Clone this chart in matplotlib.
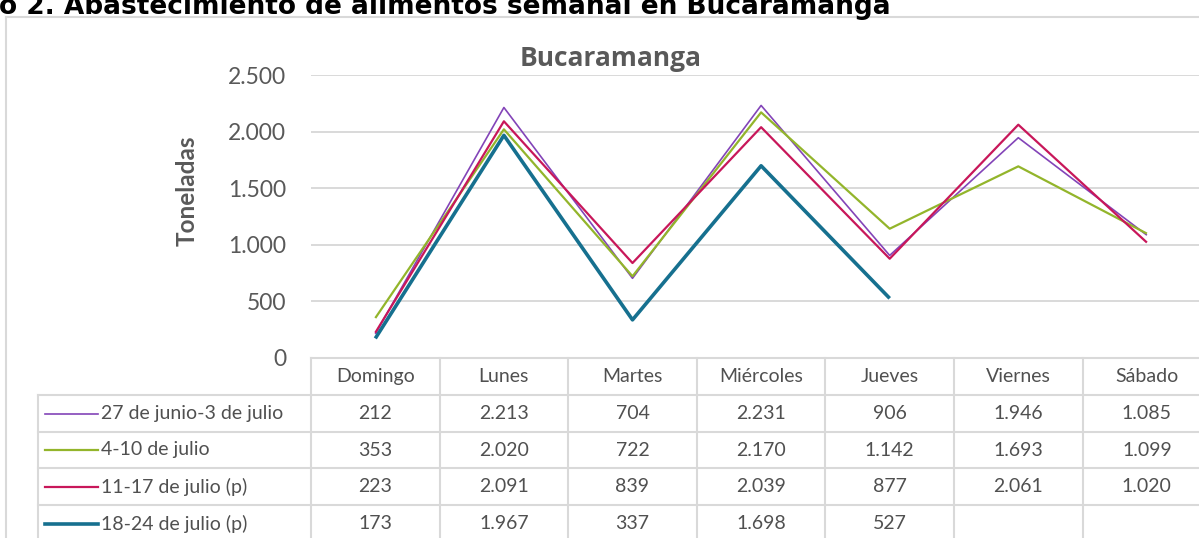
import matplotlib
matplotlib.use("Agg")
import matplotlib.pyplot as plt
import numpy as np

# ---- data ----
days = ["Domingo", "Lunes", "Martes", "Miércoles", "Jueves", "Viernes", "Sábado"]
series_names = ["27 de junio-3 de julio", "4-10 de julio", "11-17 de julio (p)", "18-24 de julio (p)"]
s_27jun = [212, 2213, 704, 2231, 906, 1946, 1085]
s_4jul = [353, 2020, 722, 2170, 1142, 1693, 1099]
s_11jul = [223, 2091, 839, 2039, 877, 2061, 1020]
s_18jul = [173, 1967, 337, 1698, 527, None, None]
yticks = [0, 500, 1000, 1500, 2000, 2500]

series = [s_27jun, s_4jul, s_11jul, s_18jul]
colors = ["#8344B8", "#93B52B", "#C8175A", "#16708F"]
widths = [1.2, 1.6, 1.6, 2.6]

W, H = 1199, 538
fig = plt.figure(figsize=(W / 100, H / 100), dpi=100)
fig.patch.set_facecolor("white")

FONT = "Lato"
GRID = "#D9D9D9"
TXT = "#595959"

def fmt(v):
    return f"{v:,}".replace(",", ".")

# plot axes (pixel geometry)
x0, x1 = 311, 311 + 7 * 128.6
ytop, ybot = 75, 358
ax = fig.add_axes([x0 / W, (H - ybot) / H, (x1 - x0) / W, (ybot - ytop) / H])
ax.set_xlim(-0.5, 6.5)
ax.set_ylim(0, 2500)
ax.set_facecolor("none")
for sp in ax.spines.values():
    sp.set_visible(False)
ax.set_yticks(yticks)
ax.set_yticklabels([fmt(v) for v in yticks], fontsize=16.5, color=TXT, fontfamily=FONT)
ax.tick_params(axis="y", length=0, pad=18)
ax.set_xticks([])
for v in yticks[1:]:
    ax.axhline(v, color=GRID, lw=1.4, zorder=0)

xs = np.arange(len(days))
for s, c, lw in zip(series, colors, widths):
    y = np.array([np.nan if v is None else v for v in s], dtype=float)
    ax.plot(xs, y, color=c, lw=lw, solid_capstyle="butt", zorder=3)

ax.set_ylabel("Toneladas", fontsize=17.5, fontweight="bold", color=TXT, fontfamily=FONT)
ax.yaxis.set_label_coords(-(311 - 199) / (x1 - x0), (ybot - 191) / (ybot - ytop))

# overlay for table, frame, titles
ov = fig.add_axes([0, 0, 1, 1])
ov.set_xlim(0, W)
ov.set_ylim(H, 0)
ov.axis("off")
ov.set_zorder(-1)

# outer frame
ov.plot([6, 6], [17, H + 5], color=GRID, lw=1.5)
ov.plot([6, W + 5], [17, 17], color=GRID, lw=1.5)

# figure title (partially cut at the top edge, as in the reference)
ov.text(-1, 14, "o 2. Abastecimiento de alimentos semanal en Bucaramanga", fontsize=19,
        fontweight="bold", color="black", fontfamily="DejaVu Sans", ha="left", va="baseline")
# chart title
ov.text(611, 59, "Bucaramanga", fontsize=19, fontweight="bold", color=TXT, fontfamily="Open Sans",
        ha="center", va="center")

# table geometry from axis scale
def colx(i):
    return ax.transData.transform((i, 0))[0]

row_tops = [358, 395, 432, 468, 505, 542]
leg_left = 38

# horizontal lines
ov.plot([x0, W + 5], [row_tops[0]] * 2, color=GRID, lw=1.5)
for yy in row_tops[1:5]:
    ov.plot([leg_left, W + 5], [yy] * 2, color=GRID, lw=1.5)
# vertical lines
ov.plot([leg_left, leg_left], [row_tops[1], H + 5], color=GRID, lw=1.5)
for i in range(len(days) + 1):
    xx = colx(i - 0.5)
    ov.plot([xx, xx], [row_tops[0], H + 5], color=GRID, lw=1.5)

TF = 14
TC = "#505050"
for i, d in enumerate(days):
    ov.text(colx(i), (row_tops[0] + row_tops[1]) / 2, d, fontsize=TF, color=TC, fontfamily=FONT,
            ha="center", va="center")
for r, (name, s, c, lw) in enumerate(zip(series_names, series, colors, widths)):
    yc = (row_tops[r + 1] + row_tops[r + 2]) / 2
    ov.plot([45, 98], [yc, yc], color=c, lw=lw)
    ov.text(101, yc, name, fontsize=TF, color=TC, fontfamily=FONT, ha="left", va="center")
    for i, v in enumerate(s):
        if v is not None:
            ov.text(colx(i), yc, fmt(v), fontsize=TF, color=TC, fontfamily=FONT,
                    ha="center", va="center")

fig.savefig("out.png", dpi=100)
